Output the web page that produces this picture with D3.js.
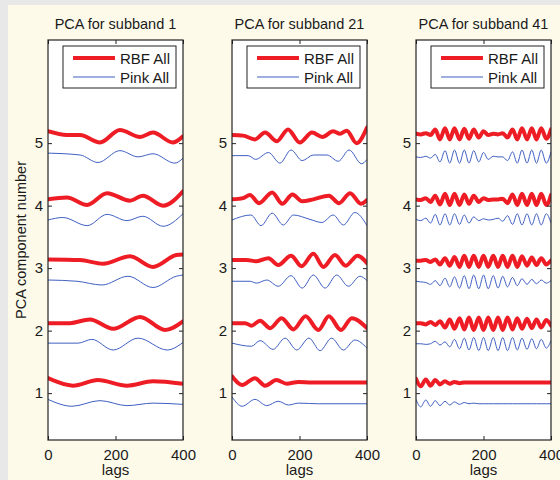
<!DOCTYPE html>
<html>
<head>
<meta charset="utf-8">
<script src="https://cdn.jsdelivr.net/npm/d3@7"></script>
<style>
  body { margin: 0; background: #e9e9e9; }
  svg { display: block; font-family: "Liberation Sans", Arial, sans-serif; }
</style>
</head>
<body>
<div id="chart"></div>
<script>
// Titres, légende et graduations
const panelTitles = ["PCA for subband 1", "PCA for subband 21", "PCA for subband 41"];
const seriesNames = ["RBF All", "Pink All"];
const xTicks = [0, 200, 400];
const yTicks = [1, 2, 3, 4, 5];

// Sous-bande 1 : [lag, valeur] aux creux et aux bosses, composantes 1 à 5
const sb1Rbf = [
  [[0,1.24],[74,1.12],[148,1.21],[234,1.12],[311,1.19],[400,1.15]],
  [[0,2.12],[65,2.12],[124,2.18],[193,2.03],[273,2.22],[347,2.01],[400,2.15]],
  [[0,3.14],[95,3.13],[163,3.07],[243,3.19],[311,3.02],[380,3.21],[400,3.22]],
  [[0,4.10],[56,4.13],[116,4.01],[175,4.20],[243,4.08],[281,4.16],[341,4.00],[400,4.23]],
  [[0,5.19],[56,5.13],[95,5.13],[154,5.01],[213,5.21],[273,5.10],[311,5.17],[370,5.01],[400,5.11]]
];
const sb1Pink = [
  [[0,0.90],[71,0.79],[154,0.88],[234,0.80],[311,0.84],[400,0.82]],
  [[0,1.80],[89,1.80],[130,1.86],[193,1.69],[267,1.88],[353,1.69],[400,1.81]],
  [[0,2.81],[86,2.79],[160,2.73],[237,2.87],[311,2.69],[380,2.87],[400,2.89]],
  [[0,3.77],[44,3.81],[116,3.68],[175,3.86],[234,3.76],[281,3.83],[341,3.67],[400,3.87]],
  [[0,4.84],[95,4.81],[148,4.69],[213,4.88],[267,4.78],[311,4.83],[376,4.68],[400,4.76]]
];

// Sous-bande 21
const sb21Rbf = [
  [[0,1.27],[30,1.13],[68,1.24],[98,1.12],[132,1.21],[162,1.15],[197,1.18],[236,1.17],[400,1.17]],
  [[0,2.12],[39,2.12],[58,2.08],[83,2.16],[113,2.04],[147,2.20],[182,2.02],[218,2.23],[256,2.01],[287,2.23],[323,2.01],[355,2.20],[400,2.04]],
  [[0,3.13],[43,3.13],[73,3.11],[108,3.16],[137,3.05],[175,3.20],[206,3.03],[241,3.23],[271,3.02],[305,3.21],[337,3.04],[372,3.20],[400,3.08]],
  [[0,4.10],[33,4.12],[53,4.17],[80,4.04],[119,4.21],[149,4.03],[179,4.18],[208,4.07],[241,4.10],[287,4.16],[317,4.04],[350,4.20],[382,4.03],[400,4.09]],
  [[0,5.13],[33,5.12],[68,5.06],[98,5.17],[133,5.03],[166,5.22],[201,5.01],[237,5.17],[268,5.10],[300,5.19],[320,5.15],[340,5.20],[369,5.00],[400,5.25]]
];
const sb21Pink = [
  [[0,0.94],[30,0.79],[68,0.90],[103,0.80],[137,0.87],[167,0.81],[197,0.84],[256,0.83],[400,0.83]],
  [[0,1.80],[58,1.75],[83,1.84],[122,1.70],[157,1.88],[192,1.69],[228,1.88],[261,1.68],[295,1.88],[330,1.69],[364,1.85],[400,1.72]],
  [[0,2.79],[53,2.79],[73,2.76],[103,2.81],[137,2.71],[175,2.88],[208,2.68],[241,2.89],[276,2.68],[310,2.89],[345,2.71],[379,2.87],[400,2.80]],
  [[0,3.77],[56,3.85],[86,3.68],[119,3.88],[152,3.69],[182,3.85],[231,3.78],[266,3.73],[300,3.85],[330,3.69],[364,3.89],[400,3.68]],
  [[0,4.80],[48,4.80],[70,4.74],[108,4.85],[142,4.68],[175,4.89],[208,4.72],[241,4.81],[281,4.81],[315,4.71],[347,4.89],[384,4.67],[400,4.74]]
];

// Sous-bande 41 : valeurs lues aux lags ci-dessous (demi-périodes)
const sb41Lags = [0,14,29,43,57,71,86,100,114,129,143,157,171,186,200,214,229,243,257,271,286,300,314,329,343,357,371,386,400];
const sb41Rbf = [
  [1.23,1.11,1.22,1.12,1.21,1.14,1.19,1.15,1.18,1.16,1.17,1.17,1.17,1.17,1.17,1.17,1.17,1.17,1.17,1.17,1.17,1.17,1.17,1.17,1.17,1.17,1.17,1.17,1.17],
  [2.12,2.12,2.10,2.14,2.09,2.15,2.05,2.18,2.03,2.20,2.02,2.21,2.01,2.21,2.01,2.21,2.01,2.21,2.01,2.21,2.02,2.20,2.03,2.19,2.04,2.18,2.05,2.17,2.08],
  [3.12,3.12,3.13,3.10,3.14,3.06,3.16,3.04,3.18,3.02,3.20,3.02,3.20,3.02,3.20,3.02,3.20,3.02,3.20,3.02,3.20,3.02,3.19,3.04,3.17,3.05,3.16,3.06,3.12],
  [4.10,4.09,4.12,4.06,4.16,4.02,4.19,4.01,4.19,4.01,4.18,4.03,4.16,4.06,4.12,4.09,4.10,4.10,4.11,4.04,4.18,4.01,4.19,4.01,4.19,4.01,4.19,4.01,4.17],
  [5.15,5.14,5.16,5.13,5.22,5.06,5.24,5.06,5.24,5.06,5.23,5.07,5.22,5.09,5.19,5.13,5.15,5.14,5.16,5.09,5.22,5.06,5.24,5.06,5.24,5.06,5.24,5.07,5.22]
];
const sb41Pink = [
  [0.90,0.78,0.89,0.79,0.88,0.80,0.87,0.81,0.86,0.82,0.85,0.83,0.84,0.83,0.83,0.83,0.83,0.83,0.83,0.83,0.83,0.83,0.83,0.83,0.83,0.83,0.83,0.83,0.83],
  [1.79,1.79,1.78,1.79,1.83,1.77,1.82,1.74,1.86,1.71,1.88,1.69,1.89,1.68,1.89,1.68,1.89,1.68,1.89,1.68,1.89,1.69,1.88,1.70,1.87,1.71,1.86,1.72,1.84],
  [2.79,2.78,2.77,2.74,2.80,2.72,2.84,2.70,2.86,2.68,2.88,2.67,2.89,2.67,2.89,2.67,2.88,2.68,2.87,2.70,2.85,2.72,2.83,2.74,2.82,2.75,2.81,2.76,2.80],
  [3.78,3.76,3.80,3.72,3.86,3.69,3.87,3.69,3.87,3.70,3.85,3.72,3.82,3.76,3.79,3.77,3.78,3.80,3.75,3.84,3.70,3.87,3.69,3.87,3.69,3.87,3.69,3.87,3.72],
  [4.78,4.77,4.79,4.76,4.82,4.70,4.88,4.68,4.89,4.68,4.89,4.68,4.88,4.70,4.85,4.74,4.79,4.78,4.78,4.72,4.86,4.68,4.89,4.68,4.89,4.68,4.89,4.68,4.86]
];

// Mise en forme des trois panneaux
const toPairs = vals => vals.map((v, i) => [sb41Lags[i], v]);
const panels = [
  { title: panelTitles[0], rbf: sb1Rbf, pink: sb1Pink },
  { title: panelTitles[1], rbf: sb21Rbf, pink: sb21Pink },
  { title: panelTitles[2], rbf: sb41Rbf.map(toPairs), pink: sb41Pink.map(toPairs) }
];

const W = 560, H = 480;
const panelLeft = [48, 232, 416];
const panelW = 135;
const plotTop = 40, plotBottom = 440;
const red = "#ee1d25", blue = "#3f5fc2";

const svg = d3.select("#chart").append("svg")
  .attr("width", W).attr("height", H);

// fond gris + fond crème
svg.append("rect").attr("width", W).attr("height", H).attr("fill", "#e8e8e8");
svg.append("rect").attr("x", 8).attr("y", 5).attr("width", W - 8).attr("height", H - 5).attr("fill", "#fdfaea");

const y = d3.scaleLinear().domain([0.25, 6.65]).range([plotBottom, plotTop]);

panels.forEach((p, k) => {
  const x0 = panelLeft[k];
  const x = d3.scaleLinear().domain([0, 400]).range([x0, x0 + panelW]);
  const g = svg.append("g");

  g.append("rect")
    .attr("x", x0).attr("y", plotTop)
    .attr("width", panelW).attr("height", plotBottom - plotTop)
    .attr("fill", "#fff");

  const clipId = "clip" + k;
  g.append("clipPath").attr("id", clipId)
    .append("rect").attr("x", x0).attr("y", plotTop)
    .attr("width", panelW).attr("height", plotBottom - plotTop);

  const line = d3.line()
    .x(d => x(d[0]))
    .y(d => y(d[1]))
    .curve(d3.curveMonotoneX);

  const lines = g.append("g").attr("clip-path", `url(#${clipId})`);
  p.rbf.forEach((s, i) => {
    lines.append("path").datum(s)
      .attr("d", line).attr("fill", "none")
      .attr("stroke", red).attr("stroke-width", 4)
      .attr("stroke-linejoin", "round").attr("stroke-linecap", "round");
    lines.append("path").datum(p.pink[i])
      .attr("d", line).attr("fill", "none")
      .attr("stroke", blue).attr("stroke-width", 1);
  });

  // Axes (graduations vers l'intérieur, style Matlab)
  const axisX = g.append("g").attr("transform", `translate(0,${plotBottom})`)
    .call(d3.axisBottom(x).tickValues(xTicks).tickSize(-4).tickPadding(9).tickFormat(d3.format("d")))
    .call(a => a.select(".domain").remove());
  axisX.selectAll("text").style("font-size", "15px").style("fill", "#1a1a1a");

  g.append("g").attr("transform", `translate(0,${plotTop})`)
    .call(d3.axisTop(x).tickValues(xTicks).tickSize(-4).tickFormat(""))
    .call(a => a.select(".domain").remove());

  const axisY = g.append("g").attr("transform", `translate(${x0},0)`)
    .call(d3.axisLeft(y).tickValues(yTicks).tickSize(-4).tickPadding(5).tickFormat(d3.format("d")))
    .call(a => a.select(".domain").remove());
  axisY.selectAll("text").style("font-size", "15px").style("fill", "#1a1a1a");

  g.append("g").attr("transform", `translate(${x0 + panelW},0)`)
    .call(d3.axisRight(y).tickValues(yTicks).tickSize(-4).tickFormat(""))
    .call(a => a.select(".domain").remove());

  g.selectAll(".tick line").attr("stroke", "#222");

  g.append("rect")
    .attr("x", x0).attr("y", plotTop)
    .attr("width", panelW).attr("height", plotBottom - plotTop)
    .attr("fill", "none").attr("stroke", "#222").attr("stroke-width", 1.2);

  // Titre
  g.append("text")
    .attr("x", x0 + panelW / 2).attr("y", 29)
    .attr("text-anchor", "middle")
    .style("font-size", "14.5px").style("fill", "#1a1a1a")
    .text(p.title);

  // Légende
  const lg = g.append("g").attr("transform", `translate(${x0 + 15},46)`);
  lg.append("rect").attr("width", panelW - 22).attr("height", 42)
    .attr("fill", "#fff").attr("stroke", "#222").attr("stroke-width", 1);
  seriesNames.forEach((name, i) => {
    const ly = 12 + i * 19;
    lg.append("line").attr("x1", 10).attr("x2", 52).attr("y1", ly).attr("y2", ly)
      .attr("stroke", i === 0 ? red : blue).attr("stroke-width", i === 0 ? 4 : 1);
    lg.append("text").attr("x", 57).attr("y", ly + 5.5)
      .style("font-size", "15px").style("fill", "#1a1a1a")
      .text(name);
  });

  // Titre de l'axe X
  g.append("text")
    .attr("x", x0 + panelW / 2).attr("y", 475)
    .attr("text-anchor", "middle")
    .style("font-size", "15px").style("fill", "#1a1a1a")
    .text("lags");
});

// Titre de l'axe Y
svg.append("text")
  .attr("transform", `translate(26,${(plotTop + plotBottom) / 2}) rotate(-90)`)
  .attr("text-anchor", "middle")
  .style("font-size", "14.5px").style("fill", "#1a1a1a")
  .text("PCA component number");
</script>
</body>
</html>
